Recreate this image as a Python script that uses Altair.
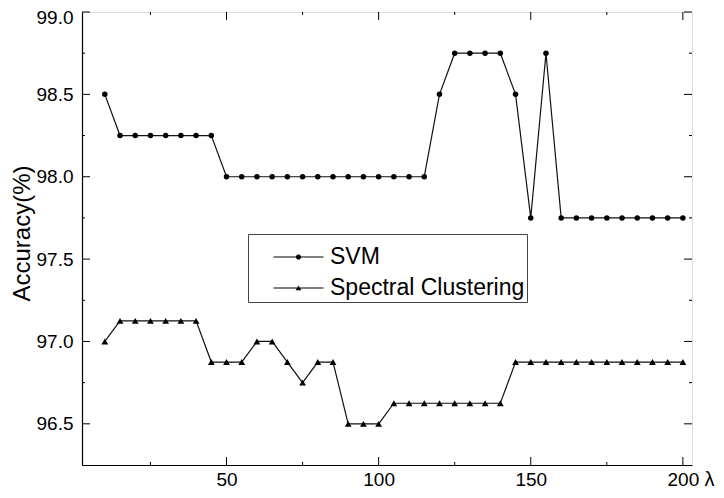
import altair as alt
import pandas as pd

# ---- data ----
lam = [10, 15, 20, 25, 30, 35, 40, 45, 50, 55, 60, 65, 70, 75, 80, 85, 90, 95, 100,
       105, 110, 115, 120, 125, 130, 135, 140, 145, 150, 155, 160, 165, 170, 175,
       180, 185, 190, 195, 200]
svm = [98.5, 98.25, 98.25, 98.25, 98.25, 98.25, 98.25, 98.25, 98.0, 98.0, 98.0,
       98.0, 98.0, 98.0, 98.0, 98.0, 98.0, 98.0, 98.0, 98.0, 98.0, 98.0, 98.5,
       98.75, 98.75, 98.75, 98.75, 98.5, 97.75, 98.75, 97.75, 97.75, 97.75, 97.75,
       97.75, 97.75, 97.75, 97.75, 97.75]
spectral = [97.0, 97.125, 97.125, 97.125, 97.125, 97.125, 97.125, 96.875, 96.875,
            96.875, 97.0, 97.0, 96.875, 96.75, 96.875, 96.875, 96.5, 96.5, 96.5,
            96.625, 96.625, 96.625, 96.625, 96.625, 96.625, 96.625, 96.625, 96.875,
            96.875, 96.875, 96.875, 96.875, 96.875, 96.875, 96.875, 96.875, 96.875,
            96.875, 96.875]
series_names = ["SVM", "Spectral Clustering"]

x_major = [50, 100, 150, 200]
x_minor = [25, 75, 125, 175]
y_major = [96.5, 97.0, 97.5, 98.0, 98.5, 99.0]
y_minor = [96.75, 97.25, 97.75, 98.25, 98.75]

W, H = 610, 453
FONT = "Liberation Sans"

df = pd.DataFrame({
    "lam": lam + lam,
    "acc": svm + spectral,
    "series": [series_names[0]] * len(lam) + [series_names[1]] * len(lam),
})

xscale = alt.Scale(domain=[2.5, 203], nice=False, zero=False)
yscale = alt.Scale(domain=[96.25, 99.0], nice=False, zero=False)

xaxis = alt.Axis(values=x_major, ticks=False, grid=False, title="λ",
                 labelFontSize=19, labelPadding=5, labelFont=FONT, labelColor="black",
                 titleFont=FONT, titleFontSize=20, titleFontWeight="normal",
                 titleColor="black", titleX=627, titleY=20, titleAlign="center",
                 titleBaseline="alphabetic", domainColor="black", domainWidth=1.2)
yaxis = alt.Axis(values=y_major, format=".1f", ticks=False, grid=False,
                 title="Accuracy(%)", labelFontSize=19, labelPadding=9, labelFont=FONT,
                 labelColor="black",
                 labelOffset={"expr": "datum.value >= 99 ? 5 : 0"},
                 titleFont=FONT, titleFontSize=24, titleAngle=270,
                 titleFontWeight="normal", titleColor="black",
                 titleX=-53, titleY=221, titleAlign="center", titleBaseline="alphabetic",
                 domainColor="black", domainWidth=1.2)

X = alt.X("lam:Q", scale=xscale, axis=xaxis)
Y = alt.Y("acc:Q", scale=yscale, axis=yaxis)

base = alt.Chart(df)
lines = base.mark_line(color="#111111", strokeWidth=1.2).encode(x=X, y=Y, detail="series:N")
points = base.mark_point(filled=True, color="black", opacity=1).encode(
    x=X, y=Y,
    shape=alt.Shape("series:N", scale=alt.Scale(domain=series_names,
                                                 range=["circle", "triangle-up"]),
                    legend=None),
    size=alt.Size("series:N", scale=alt.Scale(domain=series_names, range=[30, 46]),
                  legend=None),
)

# legend (line through marker) drawn by the library's legend with custom filled symbols
path_circle = ("M-2.5,-0.055L2.5,-0.055L2.5,0.055L-2.5,0.055Z"
               "M0.26,0A0.26,0.26,0,1,1,-0.26,0A0.26,0.26,0,1,1,0.26,0Z")
path_tri = ("M-2.5,-0.05L2.5,-0.05L2.5,0.05L-2.5,0.05Z"
            "M0,-0.25L0.29,0.22L-0.29,0.22Z")
legend_layer = alt.Chart(alt.Data(values=[{"series": s} for s in series_names])).mark_point(
    filled=True, fill="black", opacity=0
).encode(
    shape=alt.Shape("series:N",
                    scale=alt.Scale(domain=series_names, range=[path_circle, path_tri]),
                    legend=alt.Legend(orient="none", legendX=166, legendY=222, title=" ",
                                      titleFontSize=8, titlePadding=1.5,
                                      labelFont=FONT, labelFontSize=23, labelColor="black",
                                      labelLimit=0,
                                      strokeColor="#444", fillColor="white", padding=2,
                                      symbolSize=400, symbolOffset=37, labelOffset=20,
                                      symbolFillColor="black", symbolOpacity=1,
                                      rowPadding=7))
)

def xticks(vals, y0, y1):
    return alt.Chart(pd.DataFrame({"lam": vals})).mark_rule(color="black", strokeWidth=1).encode(
        x=alt.X("lam:Q", scale=xscale, axis=xaxis), y=alt.value(y0), y2=alt.value(y1))

def yticks(vals, x0, x1):
    return alt.Chart(pd.DataFrame({"acc": vals})).mark_rule(color="black", strokeWidth=1).encode(
        y=alt.Y("acc:Q", scale=yscale, axis=yaxis), x=alt.value(x0), x2=alt.value(x1))

ticks = [
    xticks(x_major, H, H - 8), xticks(x_minor, H, H - 3),
    xticks(x_major, 0, 8), xticks(x_minor, 0, 3),
    yticks(y_major, 0, 8), yticks(y_minor, 0, 3),
    yticks(y_major, W, W - 8), yticks(y_minor, W, W - 3),
]

chart = alt.layer(lines, points, *ticks, legend_layer).resolve_scale(
    shape="independent"
).properties(
    width=W, height=H,
    autosize=alt.AutoSizeParams(type="none"),
    padding={"left": 74, "top": 4, "right": 24, "bottom": 25},
).configure_view(stroke="black", strokeWidth=1.2).configure(background="white")

chart.save("out.html", embed_options={"renderer": "svg", "actions": False})
